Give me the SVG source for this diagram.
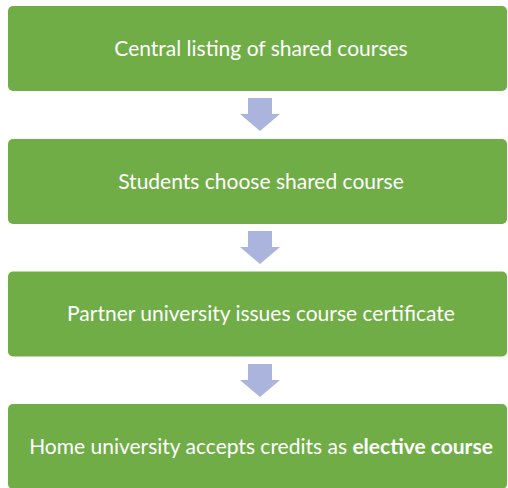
<svg xmlns="http://www.w3.org/2000/svg" width="508" height="488" viewBox="0 0 508 488">
<style>
.box{fill:#70AD47;}
.lbl{font-family:Lato,"Liberation Sans",sans-serif;font-size:21px;fill:#ffffff;text-anchor:middle;}
.arr{fill:#AAB4DC;}
</style>
<rect width="508" height="488" fill="#ffffff"/>
<g id="connectors">
<path class="arr" d="M248 98 H272 V114 H280 L260 131 L240 114 H248 Z"/>
<path class="arr" d="M248 231 H272 V247 H280 L260 264 L240 247 H248 Z"/>
<path class="arr" d="M248 364 H272 V380 H280 L260 397 L240 380 H248 Z"/>
</g>
<g id="n1"><rect class="box" x="8" y="6" width="499" height="85" rx="5"/><text class="lbl" x="261" y="55.5">Central listing of shared courses</text></g>
<g id="n2"><rect class="box" x="8" y="139" width="499" height="85" rx="5"/><text class="lbl" x="261" y="188.5">Students choose shared course</text></g>
<g id="n3"><rect class="box" x="8" y="271.5" width="499" height="85" rx="5"/><text class="lbl" x="261" y="321">Partner university issues course certificate</text></g>
<g id="n4"><rect class="box" x="8" y="404" width="499" height="85" rx="5"/><text class="lbl" x="261" y="453.5">Home university accepts credits as <tspan font-weight="bold">elective course</tspan></text></g>
</svg>
